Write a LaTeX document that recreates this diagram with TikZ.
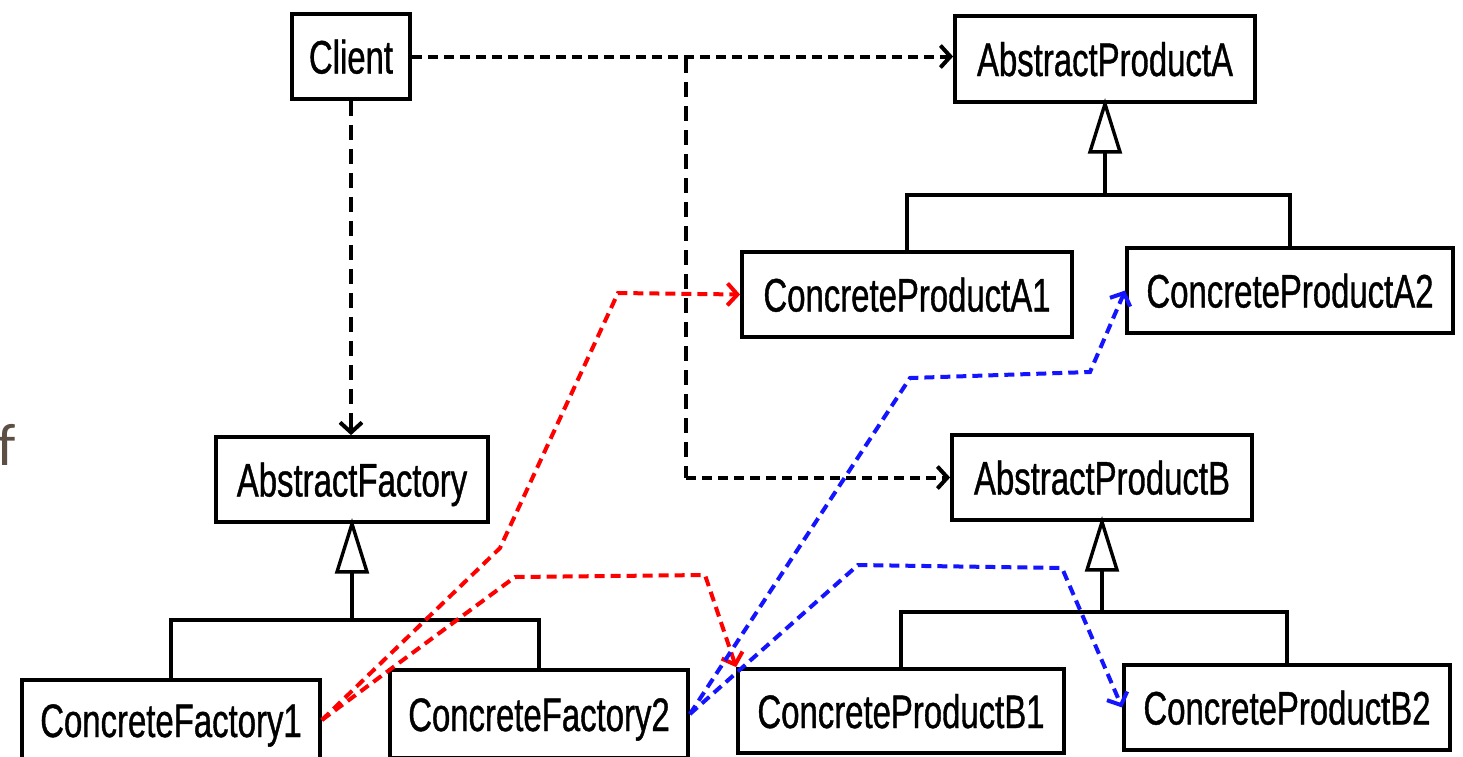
\documentclass[tikz,border=0pt]{standalone}
\usepackage{fontspec}
\setmainfont{Liberation Sans}
\newfontfamily\umlfont[FakeStretch=0.7,FakeBold=0.8]{Liberation Sans}
\newfontfamily\slidefont{Carlito}
\usetikzlibrary{arrows.meta}
\definecolor{slidegray}{RGB}{92,80,68}
\definecolor{deppblue}{RGB}{20,20,255}
\begin{document}
\begin{tikzpicture}[x=1pt,y=-1pt,
  cls/.style={draw, line width=3.8pt, inner sep=0pt, text height=34pt, text depth=0pt,
    font=\umlfont\fontsize{47}{56}\selectfont},
  gen/.style={line width=3.4pt},
  tri/.style={line width=3.4pt, fill=white, line join=miter},
  dep/.style={line width=4pt, dash pattern=on 10pt off 6pt,
    -{Straight Barb[length=10pt,width=22pt]}},
  vdep/.style={line width=3.2pt, dash pattern=on 15pt off 9pt},
  rdep/.style={dep, color=red},
  bdep/.style={dep, color=deppblue}]
\clip (0,0) rectangle (1463,756);
\fill[white] (0,0) rectangle (1463,756);

% classes
\node[cls, minimum width=118pt, minimum height=85pt] (client) at (351,56.5) {Client};
\node[cls, minimum width=300pt, minimum height=86pt] (apa) at (1105,59) {AbstractProductA};
\node[cls, minimum width=330pt, minimum height=85pt] (cpa1) at (907,294.5) {ConcreteProductA1};
\node[cls, minimum width=326pt, minimum height=85pt] (cpa2) at (1290,290.5) {ConcreteProductA2};
\node[cls, minimum width=272pt, minimum height=85pt] (af) at (352,479.5) {AbstractFactory};
\node[cls, minimum width=298pt, minimum height=80pt] (cf1) at (171,720) {ConcreteFactory1};
\node[cls, minimum width=298pt, minimum height=88pt] (cf2) at (539,714) {ConcreteFactory2};
\node[cls, minimum width=300pt, minimum height=85pt] (apb) at (1102,477.5) {AbstractProductB};
\node[cls, minimum width=326pt, minimum height=84pt] (cpb1) at (901,711) {ConcreteProductB1};
\node[cls, minimum width=326pt, minimum height=85pt] (cpb2) at (1287,707.5) {ConcreteProductB2};

% partial slide letter at the left edge
\node[anchor=base west, inner sep=0pt, text=slidegray,
  font=\slidefont\fontsize{60}{70}\selectfont] (slidef) at (-3,465) {f};

% generalization A
\draw[gen] (apa.south |- 0,148) -- (apa.south |- 0,195);
\draw[gen] (cpa1.north) -- (cpa1.north |- 0,195) -- (cpa2.north |- 0,195) -- (cpa2.north);
\draw[tri] (apa.south) -- ++(-15,48) -- ++(30,0) -- cycle;

% generalization factory
\draw[gen] (af.south |- 0,568) -- (af.south |- 0,620);
\draw[gen] (cf1.north) -- (cf1.north |- 0,620) -- (cf2.north |- 0,620) -- (cf2.north);
\draw[tri] (af.south) -- ++(-15,48) -- ++(30,0) -- cycle;

% generalization B
\draw[gen] (apb.south |- 0,566) -- (apb.south |- 0,612);
\draw[gen] (cpb1.north) -- (cpb1.north |- 0,612) -- (cpb2.north |- 0,612) -- (cpb2.north);
\draw[tri] (apb.south) -- ++(-15,48) -- ++(30,0) -- cycle;

% client dependencies
\coordinate (branch) at (686,58);
\draw[dep] (client.east) -- (client.east -| apa.west);
\draw[vdep] (branch) -- (branch |- apb.west);
\draw[dep] (branch |- apb.west) -- (apb.west);
\draw[vdep] (client.south) -- ++(0,322);
\draw[dep] (client.south |- 0,420) -- (client.south |- af.north);

% factory 1 creates (red)
\draw[rdep] (cf1.east) -- (500,548) -- (618,293) -- (cpa1.west);
\draw[rdep] (cf1.east) -- (515,577) -- (705,575) -- (cpb1.north west);

% factory 2 creates (blue)
\draw[bdep] (cf2.east) -- (910,378) -- (1090,372) -- (cpa2.west);
\draw[bdep] (cf2.east) -- (858,565) -- (1062,568) -- (cpb2.west);
\end{tikzpicture}
\end{document}
